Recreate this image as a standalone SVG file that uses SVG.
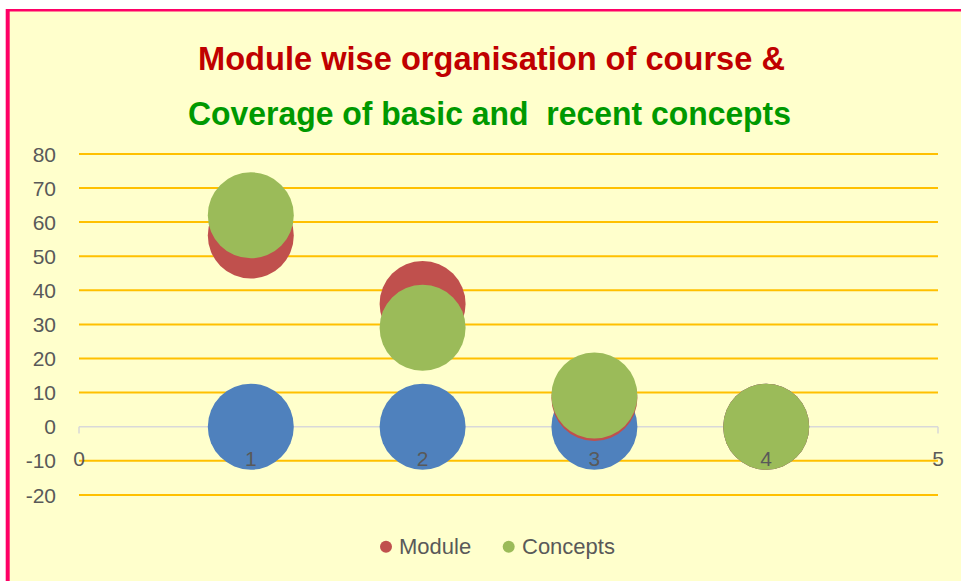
<svg xmlns="http://www.w3.org/2000/svg" width="961" height="581" viewBox="0 0 961 581">
  <style>
    .grid { stroke: #FFC000; stroke-width: 2; fill: none; }
    .axis { stroke: #D9D9D9; stroke-width: 1.5; fill: none; }
    .lbl { font-family: "Liberation Sans", Arial, sans-serif; font-size: 21px; fill: #595959; }
    .leg { font-family: "Liberation Sans", Arial, sans-serif; font-size: 22px; fill: #595959; }
    .ylbl { text-anchor: end; }
    .xlbl { text-anchor: middle; }
    .title { font-family: "Liberation Sans", Arial, sans-serif; font-size: 34px; font-weight: bold; }
    .blue { fill: #4F81BD; }
    .red { fill: #C0504D; }
    .green { fill: #9BBB59; }
  </style>
  <rect x="0" y="0" width="961" height="581" fill="#FFFFFF"/>
  <g id="chart-area">
    <rect x="6" y="9" width="960" height="580" fill="#FFFFCC"/>
    <line x1="7.7" y1="9" x2="7.7" y2="581" stroke="#FF0066" stroke-width="4"/>
    <line x1="6" y1="10.2" x2="961" y2="10.2" stroke="#FF0066" stroke-width="2.4"/>
  </g>
  <g id="title">
    <text class="title" x="198" y="69.5" fill="#C00000" textLength="587" lengthAdjust="spacingAndGlyphs">Module wise organisation of course &amp;</text>
    <text class="title" x="188" y="124.5" fill="#009900" xml:space="preserve" textLength="603" lengthAdjust="spacingAndGlyphs">Coverage of basic and  recent concepts</text>
  </g>
  <g id="gridlines">
    <line class="grid" x1="79" y1="153.9" x2="938" y2="153.9"/>
    <line class="grid" x1="79" y1="188" x2="938" y2="188"/>
    <line class="grid" x1="79" y1="222.1" x2="938" y2="222.1"/>
    <line class="grid" x1="79" y1="256.2" x2="938" y2="256.2"/>
    <line class="grid" x1="79" y1="290.3" x2="938" y2="290.3"/>
    <line class="grid" x1="79" y1="324.4" x2="938" y2="324.4"/>
    <line class="grid" x1="79" y1="358.5" x2="938" y2="358.5"/>
    <line class="grid" x1="79" y1="392.6" x2="938" y2="392.6"/>
    <line class="grid" x1="79" y1="460.8" x2="938" y2="460.8"/>
    <line class="grid" x1="79" y1="494.9" x2="938" y2="494.9"/>
  </g>
  <g id="x-axis">
    <line class="axis" x1="79" y1="426.7" x2="938" y2="426.7"/>
    <line class="axis" x1="79" y1="426.7" x2="79" y2="433.5"/>
    <line class="axis" x1="250.8" y1="426.7" x2="250.8" y2="433.5"/>
    <line class="axis" x1="422.6" y1="426.7" x2="422.6" y2="433.5"/>
    <line class="axis" x1="594.4" y1="426.7" x2="594.4" y2="433.5"/>
    <line class="axis" x1="766.2" y1="426.7" x2="766.2" y2="433.5"/>
    <line class="axis" x1="938" y1="426.7" x2="938" y2="433.5"/>
  </g>
  <g id="y-labels">
    <text class="lbl ylbl" x="56" y="161.5">80</text>
    <text class="lbl ylbl" x="56" y="195.6">70</text>
    <text class="lbl ylbl" x="56" y="229.7">60</text>
    <text class="lbl ylbl" x="56" y="263.8">50</text>
    <text class="lbl ylbl" x="56" y="297.9">40</text>
    <text class="lbl ylbl" x="56" y="332">30</text>
    <text class="lbl ylbl" x="56" y="366.1">20</text>
    <text class="lbl ylbl" x="56" y="400.2">10</text>
    <text class="lbl ylbl" x="56" y="434.3">0</text>
    <text class="lbl ylbl" x="56" y="468.4">-10</text>
    <text class="lbl ylbl" x="56" y="502.5">-20</text>
  </g>
  <g id="series-base">
    <circle class="blue" cx="250.8" cy="426.7" r="43"/>
    <circle class="blue" cx="422.6" cy="426.7" r="43"/>
    <circle class="blue" cx="594.4" cy="426.7" r="43"/>
    <circle class="blue" cx="766.2" cy="426.7" r="43"/>
  </g>
  <g id="series-module">
    <circle class="red" cx="250.8" cy="235.5" r="43"/>
    <circle class="red" cx="422.6" cy="304" r="43"/>
    <circle class="red" cx="594.4" cy="398" r="43"/>
    <circle class="red" cx="766.2" cy="426.7" r="43"/>
  </g>
  <g id="series-concepts">
    <circle class="green" cx="250.8" cy="215.3" r="43"/>
    <circle class="green" cx="422.6" cy="327.8" r="43"/>
    <circle class="green" cx="594.4" cy="395.5" r="43"/>
    <circle class="green" cx="766.2" cy="426.7" r="43"/>
  </g>
  <g id="x-labels">
    <text class="lbl xlbl" x="79" y="466">0</text>
    <text class="lbl xlbl" x="250.8" y="466">1</text>
    <text class="lbl xlbl" x="422.6" y="466">2</text>
    <text class="lbl xlbl" x="594.4" y="466">3</text>
    <text class="lbl xlbl" x="766.2" y="466">4</text>
    <text class="lbl xlbl" x="938" y="466">5</text>
  </g>
  <g id="legend">
    <circle class="red" cx="386" cy="546.7" r="6"/>
    <text class="leg" x="399" y="554.3">Module</text>
    <circle class="green" cx="508.7" cy="546.7" r="6"/>
    <text class="leg" x="522" y="554.3">Concepts</text>
  </g>
</svg>
